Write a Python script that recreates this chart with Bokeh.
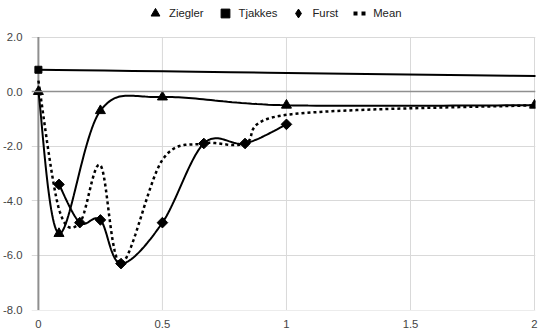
import numpy as np
from bokeh.plotting import figure
from bokeh.models import Range1d, Span, Legend, LegendItem, FixedTicker, NumeralTickFormatter
from bokeh.embed import file_html
from bokeh.resources import INLINE

ziegler_x = [0, 0.083, 0.25, 0.5, 1, 2]
ziegler_y = [0, -5.2, -0.7, -0.2, -0.5, -0.5]
tjakkes_x = [0, 4]
tjakkes_y = [0.8, 0.34]
furst_x = [0.083, 0.167, 0.25, 0.333, 0.5, 0.667, 0.833, 1]
furst_y = [-3.4, -4.8, -4.7, -6.3, -4.8, -1.9, -1.9, -1.2]
mean_x = [0, 0.083, 0.167, 0.25, 0.333, 0.5, 0.667, 0.833, 1, 2]
mean_y = [0.4, -4.3, -4.8, -2.7, -6.3, -2.5, -1.9, -1.9, -0.85, -0.5]

x_ticks = [0, 0.5, 1, 1.5, 2]
x_labels = ["0", "0.5", "1", "1.5", "2"]
y_ticks = [-8, -6, -4, -2, 0, 2]
y_min, y_max = -8, 2

SX, SY = 252.0, 27.3  # approximate screen scale, used for smoothing

FONT = "Liberation Sans"


def smooth(xs, ys, n=30):
    px = np.array(xs, float) * SX
    py = np.array(ys, float) * SY
    P = np.stack([px, py], axis=1)
    out = [P[0]]
    for i in range(len(P) - 1):
        p0 = P[i - 1] if i > 0 else P[i]
        p1 = P[i]
        p2 = P[i + 1]
        p3 = P[i + 2] if i + 2 < len(P) else P[i + 1]
        c1 = p1 + (p2 - p0) / 6.0
        c2 = p2 - (p3 - p1) / 6.0
        t = np.linspace(0, 1, n)[1:, None]
        seg = ((1 - t) ** 3) * p1 + 3 * ((1 - t) ** 2) * t * c1 + 3 * (1 - t) * t ** 2 * c2 + t ** 3 * p2
        out.extend(seg)
    out = np.array(out)
    return out[:, 0] / SX, out[:, 1] / SY


W, H = 542, 330
BL, BR, BT, BB = 23, 7, 0, 20
frame_w = W - BL - BR
frame_h = H - BT - BB
x_lo = -7 / SX
x_hi = x_lo + frame_w / SX
y_lo = y_min - 0.5 / SY
y_hi = y_lo + frame_h / SY

p = figure(width=W, height=H, output_backend="svg", toolbar_location=None,
           x_range=Range1d(x_lo, x_hi), y_range=Range1d(y_lo, y_hi),
           min_border_left=BL, min_border_right=BR, min_border_top=BT, min_border_bottom=BB)
p.outline_line_color = None
p.background_fill_color = "white"
# off-screen range used only so that legend-only glyphs are not drawn in the chart
p.extra_x_ranges = {"legend_only": Range1d(100, 101)}

grid_col = "#d9d9d9"
p.xgrid.visible = False
p.ygrid.ticker = FixedTicker(ticks=y_ticks)
p.ygrid.grid_line_color = grid_col

# vertical grid lines limited to the data area, and the darker axis line at x = 0
p.segment(x0=x_ticks[1:], y0=[y_min] * (len(x_ticks) - 1), x1=x_ticks[1:], y1=[y_max] * (len(x_ticks) - 1),
          line_color=grid_col, line_width=1)
p.segment(x0=x_ticks[:1], y0=[y_min], x1=x_ticks[:1], y1=[y_max], line_color="#8f8f8f", line_width=2)
# darker baseline at y = 0
p.add_layout(Span(location=0, dimension="width", line_color="#8f8f8f", line_width=1.5))

p.xaxis.ticker = FixedTicker(ticks=x_ticks)
p.xaxis.major_label_overrides = {t: l for t, l in zip(x_ticks, x_labels)}
p.yaxis.ticker = FixedTicker(ticks=y_ticks)
p.yaxis.formatter = NumeralTickFormatter(format="0.0")
for ax in (p.xaxis, p.yaxis):
    ax.axis_line_color = None
    ax.major_tick_line_color = None
    ax.minor_tick_line_color = None
    ax.major_label_text_font = FONT
    ax.major_label_text_font_size = "11.3px"
    ax.major_label_text_color = "#444444"
p.xaxis.major_label_standoff = 3
p.yaxis.major_label_standoff = 3

zx, zy = smooth(ziegler_x, ziegler_y)
tx, ty = smooth(tjakkes_x, tjakkes_y)
fx, fy = smooth(furst_x, furst_y)
mx, my = smooth(mean_x, mean_y)

p.line(tx, ty, line_color="black", line_width=2)
p.line(zx, zy, line_color="black", line_width=2)
p.line(fx, fy, line_color="black", line_width=2)
p.line(mx, my, line_color="black", line_width=2.5, line_dash="3 3")

r_z = p.scatter(ziegler_x, ziegler_y, marker="triangle", size=10, color="black")
r_t = p.scatter(tjakkes_x, tjakkes_y, marker="square", size=7, color="black")
p.scatter(furst_x, furst_y, marker="square", angle=np.pi / 4, size=7.5, color="black")

# legend glyphs (drawn on an off-screen range, so only the legend shows them)
r_f_leg = p.scatter(furst_x, furst_y, marker="diamond", color="black", x_range_name="legend_only")
r_m_leg = p.line(mean_x, mean_y, line_color="black", line_width=4, line_dash="0 5 4 4 4 5",
                 x_range_name="legend_only")

legend = Legend(items=[
    LegendItem(label="Ziegler", renderers=[r_z]),
    LegendItem(label="Tjakkes", renderers=[r_t]),
    LegendItem(label="Furst", renderers=[r_f_leg]),
    LegendItem(label="Mean", renderers=[r_m_leg]),
], orientation="horizontal", location=(113, frame_h - 24))
legend.label_text_font = FONT
legend.label_text_font_size = "11.3px"
legend.label_text_color = "#222222"
legend.border_line_color = None
legend.background_fill_alpha = 0
legend.glyph_width = 22
legend.glyph_height = 22
legend.label_height = 12
legend.label_standoff = 3
legend.spacing = 10
legend.padding = 0
legend.margin = 0
p.add_layout(legend)

open("out.html", "w").write(file_html(p, INLINE))
